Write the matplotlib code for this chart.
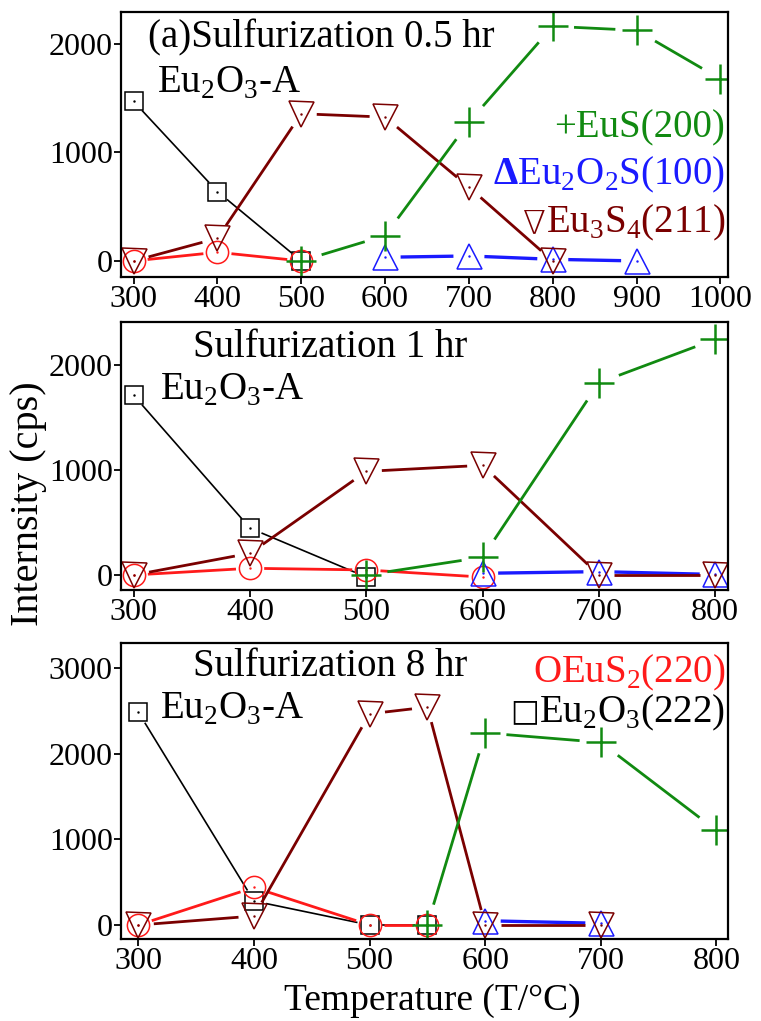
import numpy as np
import matplotlib
matplotlib.use("Agg")
import matplotlib.pyplot as plt

plt.rcParams['font.family'] = ['Liberation Serif', 'DejaVu Serif']
plt.rcParams['mathtext.fontset'] = 'custom'
plt.rcParams['mathtext.rm'] = 'Liberation Serif'
plt.rcParams['mathtext.bf'] = 'Liberation Serif:bold'

# ---- data ----
# panel (a) 0.5 hr
t1_eu2o3 = [300, 400, 500]
y1_eu2o3 = [1471, 640, 0]
t1_eus2 = [300, 400, 500]
y1_eus2 = [0, 80, 0]
t1_eus = [500, 600, 700, 800, 900, 1000]
y1_eus = [0, 234, 1280, 2163, 2126, 1677]
t1_eu2o2s = [600, 700, 800, 900]
y1_eu2o2s = [34, 46, 15, 0]
t1_eu3s4 = [300, 400, 500, 600, 700, 800]
y1_eu3s4 = [0, 209, 1357, 1326, 680, 0]

# 1 hr
t2_eu2o3 = [300, 400, 500]
y2_eu2o3 = [1710, 446, -20]
t2_eus2 = [300, 400, 500, 600]
y2_eus2 = [0, 64, 48, -20]
t2_eus = [500, 600, 700, 800]
y2_eus = [0, 169, 1831, 2245]
t2_eu2o2s = [600, 700, 800]
y2_eu2o2s = [16, 32, 5]
t2_eu3s4 = [300, 400, 500, 600, 700, 800]
y2_eu3s4 = [0, 207, 987, 1045, 0, 0]

# 8 hr
t3_eu2o3 = [300, 400, 500, 550]
y3_eu2o3 = [2483, 280, 0, 0]
t3_eus2 = [300, 400, 500, 550]
y3_eus2 = [0, 438, 0, 0]
t3_eus = [550, 600, 700, 800]
y3_eus = [0, 2241, 2131, 1103]
t3_eu2o2s = [600, 700]
y3_eu2o2s = [50, 20]
t3_eu3s4 = [300, 400, 500, 550, 600, 700]
y3_eu3s4 = [0, 105, 2464, 2542, 0, 0]

c_black = 'black'
c_red = '#ff1a1a'
c_green = '#118a11'
c_blue = '#1a1aff'
c_dred = '#7a0000'

W, H = 761, 1021
fig = plt.figure(figsize=(W / 100, H / 100), dpi=100)
ax1 = fig.add_axes([121/W, 1-277/H, 607/W, 265/H])
ax2 = fig.add_axes([121/W, 1-590/H, 607/W, 268/H])
ax3 = fig.add_axes([121/W, 1-939/H, 607/W, 296/H])

ax1.set_xlim(285, 1009)
ax1.set_ylim(-148, 2295)
ax1.set_xticks(range(300, 1001, 100))
ax1.set_yticks([0, 1000, 2000])
ax2.set_xlim(289, 811)
ax2.set_ylim(-143, 2410)
ax2.set_xticks(range(300, 801, 100))
ax2.set_yticks([0, 1000, 2000])
ax3.set_xlim(285, 810)
ax3.set_ylim(-163, 3290)
ax3.set_xticks(range(300, 801, 100))
ax3.set_yticks([0, 1000, 2000, 3000])


def draw(ax, t, y, color, marker, ms, lw, mew=1.1, extra=3):
    # Igor-like: line segments stop short of each marker
    gap = ms / 2 * 100 / 72 + extra
    pts = ax.transData.transform(np.column_stack([t, y]))
    inv = ax.transData.inverted()
    for p0, p1 in zip(pts[:-1], pts[1:]):
        d = p1 - p0
        L = np.hypot(*d)
        if L <= 2 * gap + 1:
            continue
        u = d / L
        seg = inv.transform(np.array([p0 + u * gap, p1 - u * gap]))
        ax.plot(seg[:, 0], seg[:, 1], color=color, lw=lw, solid_capstyle='butt')
    ax.plot(t, y, ls='none', marker=marker, ms=ms, mfc='none', mec=color, mew=mew)
    ax.plot(t, y, ls='none', marker='.', ms=1.5, color=color)


def panel(ax, data):
    (te, ye), (tr, yr), (tg, yg), (tb, yb), (td, yd) = data
    draw(ax, te, ye, c_black, 's', 13.5, 1.2)
    draw(ax, tr, yr, c_red, 'o', 16, 2.0)
    draw(ax, tb, yb, c_blue, '^', 18, 2.4)
    draw(ax, td, yd, c_dred, 'v', 18, 2.0)
    draw(ax, tg, yg, c_green, '+', 22, 2.0, mew=1.8, extra=6)
    ax.tick_params(direction='out', length=5, width=1.3, top=False, right=False,
                   labelsize=23, pad=1)
    for s in ax.spines.values():
        s.set_linewidth(1.6)


panel(ax1, [(t1_eu2o3, y1_eu2o3), (t1_eus2, y1_eus2), (t1_eus, y1_eus),
            (t1_eu2o2s, y1_eu2o2s), (t1_eu3s4, y1_eu3s4)])
panel(ax2, [(t2_eu2o3, y2_eu2o3), (t2_eus2, y2_eus2), (t2_eus, y2_eus),
            (t2_eu2o2s, y2_eu2o2s), (t2_eu3s4, y2_eu3s4)])
panel(ax3, [(t3_eu2o3, y3_eu2o3), (t3_eus2, y3_eus2), (t3_eus, y3_eus),
            (t3_eu2o2s, y3_eu2o2s), (t3_eu3s4, y3_eu3s4)])

sub = r'Eu$_\mathrm{2}$O$_\mathrm{3}$-A'
fs = 28


def label(ax, x, y, s, color='black', ha='left'):
    return ax.text(x, y, s, transform=ax.transAxes, fontsize=fs, va='baseline',
                   ha=ha, color=color)


# panel (a) texts
label(ax1, 0.045, 0.868, '(a)Sulfurization 0.5 hr')
label(ax1, 0.06, 0.694, sub)
label(ax1, 0.995, 0.528, '+EuS(200)', c_green, 'right')
label(ax1, 0.995, 0.351, r'$\mathbf{\Delta}$Eu$_\mathrm{2}$O$_\mathrm{2}$S(100)',
      c_blue, 'right')
t_e34 = label(ax1, 0.995, 0.17, r'Eu$_\mathrm{3}$S$_\mathrm{4}$(211)', c_dred, 'right')
ax1.annotate('\u2207', xy=(0, 0), xycoords=t_e34, xytext=(0, 2),
             textcoords='offset points', fontsize=fs - 4, color=c_dred,
             family='DejaVu Sans', fontweight='light', ha='right', va='bottom')

# 1 hr texts
label(ax2, 0.118, 0.869, 'Sulfurization 1 hr')
label(ax2, 0.064, 0.709, sub)

# 8 hr texts
label(ax3, 0.118, 0.889, 'Sulfurization 8 hr')
label(ax3, 0.064, 0.743, sub)
label(ax3, 0.995, 0.868, r'OEuS$_\mathrm{2}$(220)', c_red, 'right')
t_e23 = label(ax3, 0.995, 0.73, r'Eu$_\mathrm{2}$O$_\mathrm{3}$(222)', 'black', 'right')
ax3.annotate('\u25a1', xy=(0, 0), xycoords=t_e23, xytext=(0, 5),
             textcoords='offset points', fontsize=fs - 6, color='black',
             family='DejaVu Sans', ha='right', va='bottom')

fig.text(47/W, 1-504/H, 'Internsity (cps)', rotation=90, fontsize=29,
         ha='right', va='center')
fig.text(432/W, 1-1010/H, 'Temperature (T/\u00b0C)', fontsize=27,
         ha='center', va='baseline')

fig.savefig('out.png', dpi=100)
